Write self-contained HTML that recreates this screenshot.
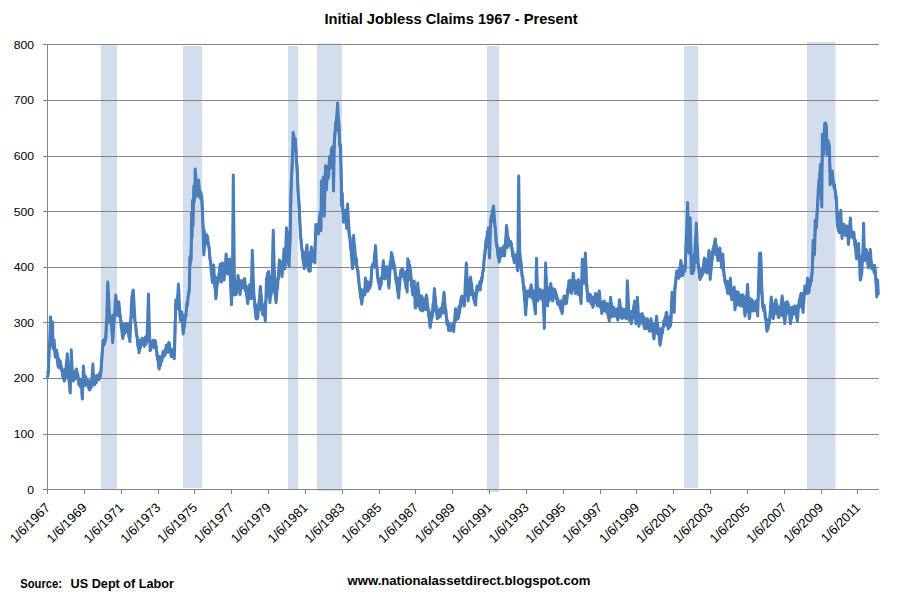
<!DOCTYPE html>
<html><head><meta charset="utf-8"><title>Initial Jobless Claims 1967 - Present</title>
<style>html,body{margin:0;padding:0;background:#fff}svg{display:block}</style></head>
<body>
<svg width="903" height="594" viewBox="0 0 903 594">
<rect width="903" height="594" fill="#fff"/>
<line x1="43" y1="44.5" x2="879" y2="44.5" stroke="#868686" stroke-width="1" shape-rendering="crispEdges"/>
<line x1="43" y1="100.5" x2="879" y2="100.5" stroke="#868686" stroke-width="1" shape-rendering="crispEdges"/>
<line x1="43" y1="156.5" x2="879" y2="156.5" stroke="#868686" stroke-width="1" shape-rendering="crispEdges"/>
<line x1="43" y1="211.5" x2="879" y2="211.5" stroke="#868686" stroke-width="1" shape-rendering="crispEdges"/>
<line x1="43" y1="267.5" x2="879" y2="267.5" stroke="#868686" stroke-width="1" shape-rendering="crispEdges"/>
<line x1="43" y1="322.5" x2="879" y2="322.5" stroke="#868686" stroke-width="1" shape-rendering="crispEdges"/>
<line x1="43" y1="378.5" x2="879" y2="378.5" stroke="#868686" stroke-width="1" shape-rendering="crispEdges"/>
<line x1="43" y1="434.5" x2="879" y2="434.5" stroke="#868686" stroke-width="1" shape-rendering="crispEdges"/>
<line x1="43" y1="489.5" x2="879" y2="489.5" stroke="#868686" stroke-width="1" shape-rendering="crispEdges"/>
<rect x="101" y="44" width="16" height="445" fill="#d2ddee"/>
<rect x="183" y="46" width="19" height="442" fill="#d2ddee"/>
<rect x="288" y="46" width="10" height="443" fill="#d2ddee"/>
<rect x="317" y="43.5" width="25" height="447.5" fill="#d2ddee"/>
<rect x="487" y="46" width="12" height="446" fill="#d2ddee"/>
<rect x="684" y="46" width="14" height="442" fill="#d2ddee"/>
<rect x="807" y="42" width="28.5" height="447" fill="#d2ddee"/>
<line x1="101" y1="44.5" x2="117" y2="44.5" stroke="#868686" stroke-width="1" shape-rendering="crispEdges"/>
<line x1="317" y1="44.5" x2="342" y2="44.5" stroke="#868686" stroke-width="1" shape-rendering="crispEdges"/>
<line x1="807" y1="44.5" x2="835.5" y2="44.5" stroke="#868686" stroke-width="1" shape-rendering="crispEdges"/>
<line x1="101" y1="100.5" x2="117" y2="100.5" stroke="#868686" stroke-width="1" shape-rendering="crispEdges"/>
<line x1="183" y1="100.5" x2="202" y2="100.5" stroke="#868686" stroke-width="1" shape-rendering="crispEdges"/>
<line x1="288" y1="100.5" x2="298" y2="100.5" stroke="#868686" stroke-width="1" shape-rendering="crispEdges"/>
<line x1="317" y1="100.5" x2="342" y2="100.5" stroke="#868686" stroke-width="1" shape-rendering="crispEdges"/>
<line x1="487" y1="100.5" x2="499" y2="100.5" stroke="#868686" stroke-width="1" shape-rendering="crispEdges"/>
<line x1="684" y1="100.5" x2="698" y2="100.5" stroke="#868686" stroke-width="1" shape-rendering="crispEdges"/>
<line x1="807" y1="100.5" x2="835.5" y2="100.5" stroke="#868686" stroke-width="1" shape-rendering="crispEdges"/>
<line x1="101" y1="156.5" x2="117" y2="156.5" stroke="#868686" stroke-width="1" shape-rendering="crispEdges"/>
<line x1="183" y1="156.5" x2="202" y2="156.5" stroke="#868686" stroke-width="1" shape-rendering="crispEdges"/>
<line x1="288" y1="156.5" x2="298" y2="156.5" stroke="#868686" stroke-width="1" shape-rendering="crispEdges"/>
<line x1="317" y1="156.5" x2="342" y2="156.5" stroke="#868686" stroke-width="1" shape-rendering="crispEdges"/>
<line x1="487" y1="156.5" x2="499" y2="156.5" stroke="#868686" stroke-width="1" shape-rendering="crispEdges"/>
<line x1="684" y1="156.5" x2="698" y2="156.5" stroke="#868686" stroke-width="1" shape-rendering="crispEdges"/>
<line x1="807" y1="156.5" x2="835.5" y2="156.5" stroke="#868686" stroke-width="1" shape-rendering="crispEdges"/>
<line x1="101" y1="211.5" x2="117" y2="211.5" stroke="#868686" stroke-width="1" shape-rendering="crispEdges"/>
<line x1="183" y1="211.5" x2="202" y2="211.5" stroke="#868686" stroke-width="1" shape-rendering="crispEdges"/>
<line x1="288" y1="211.5" x2="298" y2="211.5" stroke="#868686" stroke-width="1" shape-rendering="crispEdges"/>
<line x1="317" y1="211.5" x2="342" y2="211.5" stroke="#868686" stroke-width="1" shape-rendering="crispEdges"/>
<line x1="487" y1="211.5" x2="499" y2="211.5" stroke="#868686" stroke-width="1" shape-rendering="crispEdges"/>
<line x1="684" y1="211.5" x2="698" y2="211.5" stroke="#868686" stroke-width="1" shape-rendering="crispEdges"/>
<line x1="807" y1="211.5" x2="835.5" y2="211.5" stroke="#868686" stroke-width="1" shape-rendering="crispEdges"/>
<line x1="101" y1="267.5" x2="117" y2="267.5" stroke="#868686" stroke-width="1" shape-rendering="crispEdges"/>
<line x1="183" y1="267.5" x2="202" y2="267.5" stroke="#868686" stroke-width="1" shape-rendering="crispEdges"/>
<line x1="288" y1="267.5" x2="298" y2="267.5" stroke="#868686" stroke-width="1" shape-rendering="crispEdges"/>
<line x1="317" y1="267.5" x2="342" y2="267.5" stroke="#868686" stroke-width="1" shape-rendering="crispEdges"/>
<line x1="487" y1="267.5" x2="499" y2="267.5" stroke="#868686" stroke-width="1" shape-rendering="crispEdges"/>
<line x1="684" y1="267.5" x2="698" y2="267.5" stroke="#868686" stroke-width="1" shape-rendering="crispEdges"/>
<line x1="807" y1="267.5" x2="835.5" y2="267.5" stroke="#868686" stroke-width="1" shape-rendering="crispEdges"/>
<line x1="101" y1="322.5" x2="117" y2="322.5" stroke="#868686" stroke-width="1" shape-rendering="crispEdges"/>
<line x1="183" y1="322.5" x2="202" y2="322.5" stroke="#868686" stroke-width="1" shape-rendering="crispEdges"/>
<line x1="288" y1="322.5" x2="298" y2="322.5" stroke="#868686" stroke-width="1" shape-rendering="crispEdges"/>
<line x1="317" y1="322.5" x2="342" y2="322.5" stroke="#868686" stroke-width="1" shape-rendering="crispEdges"/>
<line x1="487" y1="322.5" x2="499" y2="322.5" stroke="#868686" stroke-width="1" shape-rendering="crispEdges"/>
<line x1="684" y1="322.5" x2="698" y2="322.5" stroke="#868686" stroke-width="1" shape-rendering="crispEdges"/>
<line x1="807" y1="322.5" x2="835.5" y2="322.5" stroke="#868686" stroke-width="1" shape-rendering="crispEdges"/>
<line x1="101" y1="378.5" x2="117" y2="378.5" stroke="#868686" stroke-width="1" shape-rendering="crispEdges"/>
<line x1="183" y1="378.5" x2="202" y2="378.5" stroke="#868686" stroke-width="1" shape-rendering="crispEdges"/>
<line x1="288" y1="378.5" x2="298" y2="378.5" stroke="#868686" stroke-width="1" shape-rendering="crispEdges"/>
<line x1="317" y1="378.5" x2="342" y2="378.5" stroke="#868686" stroke-width="1" shape-rendering="crispEdges"/>
<line x1="487" y1="378.5" x2="499" y2="378.5" stroke="#868686" stroke-width="1" shape-rendering="crispEdges"/>
<line x1="684" y1="378.5" x2="698" y2="378.5" stroke="#868686" stroke-width="1" shape-rendering="crispEdges"/>
<line x1="807" y1="378.5" x2="835.5" y2="378.5" stroke="#868686" stroke-width="1" shape-rendering="crispEdges"/>
<line x1="101" y1="434.5" x2="117" y2="434.5" stroke="#868686" stroke-width="1" shape-rendering="crispEdges"/>
<line x1="183" y1="434.5" x2="202" y2="434.5" stroke="#868686" stroke-width="1" shape-rendering="crispEdges"/>
<line x1="288" y1="434.5" x2="298" y2="434.5" stroke="#868686" stroke-width="1" shape-rendering="crispEdges"/>
<line x1="317" y1="434.5" x2="342" y2="434.5" stroke="#868686" stroke-width="1" shape-rendering="crispEdges"/>
<line x1="487" y1="434.5" x2="499" y2="434.5" stroke="#868686" stroke-width="1" shape-rendering="crispEdges"/>
<line x1="684" y1="434.5" x2="698" y2="434.5" stroke="#868686" stroke-width="1" shape-rendering="crispEdges"/>
<line x1="807" y1="434.5" x2="835.5" y2="434.5" stroke="#868686" stroke-width="1" shape-rendering="crispEdges"/>
<line x1="317" y1="489.5" x2="342" y2="489.5" stroke="#868686" stroke-width="1" shape-rendering="crispEdges"/>
<line x1="487" y1="489.5" x2="499" y2="489.5" stroke="#868686" stroke-width="1" shape-rendering="crispEdges"/>
<line x1="47.5" y1="44" x2="47.5" y2="490" stroke="#868686" stroke-width="1" shape-rendering="crispEdges"/>
<line x1="47.5" y1="489" x2="47.5" y2="494" stroke="#868686" stroke-width="1" shape-rendering="crispEdges"/>
<line x1="84.5" y1="489" x2="84.5" y2="494" stroke="#868686" stroke-width="1" shape-rendering="crispEdges"/>
<line x1="121.5" y1="489" x2="121.5" y2="494" stroke="#868686" stroke-width="1" shape-rendering="crispEdges"/>
<line x1="158.5" y1="489" x2="158.5" y2="494" stroke="#868686" stroke-width="1" shape-rendering="crispEdges"/>
<line x1="194.5" y1="489" x2="194.5" y2="494" stroke="#868686" stroke-width="1" shape-rendering="crispEdges"/>
<line x1="231.5" y1="489" x2="231.5" y2="494" stroke="#868686" stroke-width="1" shape-rendering="crispEdges"/>
<line x1="268.5" y1="489" x2="268.5" y2="494" stroke="#868686" stroke-width="1" shape-rendering="crispEdges"/>
<line x1="305.5" y1="489" x2="305.5" y2="494" stroke="#868686" stroke-width="1" shape-rendering="crispEdges"/>
<line x1="342.5" y1="489" x2="342.5" y2="494" stroke="#868686" stroke-width="1" shape-rendering="crispEdges"/>
<line x1="379.5" y1="489" x2="379.5" y2="494" stroke="#868686" stroke-width="1" shape-rendering="crispEdges"/>
<line x1="415.5" y1="489" x2="415.5" y2="494" stroke="#868686" stroke-width="1" shape-rendering="crispEdges"/>
<line x1="452.5" y1="489" x2="452.5" y2="494" stroke="#868686" stroke-width="1" shape-rendering="crispEdges"/>
<line x1="489.5" y1="489" x2="489.5" y2="494" stroke="#868686" stroke-width="1" shape-rendering="crispEdges"/>
<line x1="526.5" y1="489" x2="526.5" y2="494" stroke="#868686" stroke-width="1" shape-rendering="crispEdges"/>
<line x1="563.5" y1="489" x2="563.5" y2="494" stroke="#868686" stroke-width="1" shape-rendering="crispEdges"/>
<line x1="600.5" y1="489" x2="600.5" y2="494" stroke="#868686" stroke-width="1" shape-rendering="crispEdges"/>
<line x1="636.5" y1="489" x2="636.5" y2="494" stroke="#868686" stroke-width="1" shape-rendering="crispEdges"/>
<line x1="673.5" y1="489" x2="673.5" y2="494" stroke="#868686" stroke-width="1" shape-rendering="crispEdges"/>
<line x1="710.5" y1="489" x2="710.5" y2="494" stroke="#868686" stroke-width="1" shape-rendering="crispEdges"/>
<line x1="747.5" y1="489" x2="747.5" y2="494" stroke="#868686" stroke-width="1" shape-rendering="crispEdges"/>
<line x1="784.5" y1="489" x2="784.5" y2="494" stroke="#868686" stroke-width="1" shape-rendering="crispEdges"/>
<line x1="821.5" y1="489" x2="821.5" y2="494" stroke="#868686" stroke-width="1" shape-rendering="crispEdges"/>
<line x1="857.5" y1="489" x2="857.5" y2="494" stroke="#868686" stroke-width="1" shape-rendering="crispEdges"/>
<path d="M47.6,372.6 L48.4,373.2 L49.2,347.4 L50.0,346.2 L50.8,331.7 L51.6,345.5 L52.4,335.0 L53.2,342.1 L54.0,342.7 L54.8,352.3 L55.6,350.6 L56.4,358.0 L57.2,352.6 L58.0,365.4 L58.8,358.3 L59.6,368.1 L60.4,362.2 L61.2,369.1 L62.0,368.8 L62.8,376.7 L63.6,370.0 L64.4,375.7 L65.2,368.9 L66.0,377.4 L66.8,371.7 L67.6,378.2 L68.4,366.5 L69.2,372.7 L70.0,371.0 L70.8,381.4 L71.6,374.3 L72.4,381.0 L73.2,371.5 L74.0,374.2 L74.8,371.0 L75.6,378.8 L76.4,372.2 L77.2,379.2 L78.0,374.0 L78.8,384.1 L79.6,378.9 L80.4,387.1 L81.2,380.5 L82.0,386.0 L82.8,379.0 L83.6,383.0 L84.4,379.5 L85.2,385.9 L86.0,376.6 L86.8,384.1 L87.6,380.0 L88.4,387.7 L89.2,380.6 L90.0,387.1 L90.8,381.2 L91.6,387.5 L92.4,379.2 L93.2,383.7 L94.0,375.2 L94.8,382.1 L95.6,376.0 L96.4,382.9 L97.2,375.2 L98.0,380.2 L98.8,373.7 L99.6,379.0 L100.4,371.2 L101.2,371.5 L102.0,352.5 L102.8,347.8 L103.6,339.9 L104.4,344.7 L105.2,337.5 L106.0,337.6 L106.8,317.8 L107.6,323.3 L108.4,316.3 L109.2,321.7 L110.0,315.4 L110.8,324.5 L111.6,316.1 L112.4,322.7 L113.2,314.9 L114.0,320.5 L114.8,312.8 L115.6,315.3 L116.4,303.8 L117.2,314.2 L118.0,304.1 L118.8,313.9 L119.6,311.2 L120.4,320.3 L121.2,320.8 L122.0,331.7 L122.8,323.8 L123.6,330.9 L124.4,324.6 L125.2,333.1 L126.0,326.0 L126.8,331.6 L127.6,324.9 L128.4,331.6 L129.2,323.3 L130.0,329.8 L130.8,317.6 L131.6,317.6 L132.4,306.1 L133.2,313.7 L134.0,310.2 L134.8,320.7 L135.6,322.9 L136.4,335.6 L137.2,336.3 L138.0,346.8 L138.8,341.1 L139.6,348.7 L140.4,339.9 L141.2,345.7 L142.0,338.1 L142.8,344.4 L143.6,338.9 L144.4,346.6 L145.2,336.8 L146.0,344.7 L146.8,337.0 L147.6,341.9 L148.4,336.1 L149.2,341.4 L150.0,340.9 L150.8,346.0 L151.6,341.4 L152.4,346.5 L153.2,340.1 L154.0,348.0 L154.8,341.2 L155.6,347.7 L156.4,346.6 L157.2,358.2 L158.0,357.2 L158.8,363.0 L159.6,356.3 L160.4,365.3 L161.2,356.9 L162.0,361.5 L162.8,351.6 L163.6,357.1 L164.4,350.2 L165.2,355.4 L166.0,345.4 L166.8,352.5 L167.6,344.3 L168.4,352.5 L169.2,344.5 L170.0,351.6 L170.8,349.3 L171.6,355.3 L172.4,349.9 L173.2,354.9 L174.0,348.9 L174.8,343.5 L175.6,303.8 L176.4,307.8 L177.2,301.4 L178.0,308.8 L178.8,299.3 L179.6,311.1 L180.4,310.9 L181.2,321.1 L182.0,315.0 L182.8,321.1 L183.6,315.2 L184.4,321.6 L185.2,315.9 L186.0,316.1 L186.8,302.5 L187.6,304.5 L188.4,292.4 L189.2,291.1 L190.0,256.6 L190.8,262.4 L191.6,234.6 L192.4,219.5 L193.2,205.3 L194.0,198.2 L194.8,187.4 L195.6,194.4 L196.4,184.4 L197.2,191.9 L198.0,184.3 L198.8,194.5 L199.6,190.3 L200.4,198.5 L201.2,192.3 L202.0,204.2 L202.8,218.8 L203.6,237.0 L204.4,230.4 L205.2,238.7 L206.0,236.8 L206.8,244.1 L207.6,238.8 L208.4,246.0 L209.2,247.1 L210.0,260.4 L210.8,261.6 L211.6,271.9 L212.4,269.8 L213.2,278.2 L214.0,275.0 L214.8,287.3 L215.6,277.1 L216.4,283.6 L217.2,277.9 L218.0,283.7 L218.8,276.3 L219.6,277.6 L220.4,268.4 L221.2,277.1 L222.0,269.6 L222.8,273.4 L223.6,265.5 L224.4,271.3 L225.2,264.8 L226.0,270.5 L226.8,262.0 L227.6,270.8 L228.4,262.8 L229.2,273.0 L230.0,267.5 L230.8,271.5 L231.6,263.6 L232.4,284.0 L233.2,283.5 L234.0,295.1 L234.8,280.3 L235.6,284.2 L236.4,281.5 L237.2,292.4 L238.0,287.5 L238.8,289.3 L239.6,281.0 L240.4,287.4 L241.2,281.5 L242.0,287.8 L242.8,281.1 L243.6,288.0 L244.4,281.4 L245.2,290.7 L246.0,287.4 L246.8,293.4 L247.6,286.6 L248.4,294.1 L249.2,289.7 L250.0,295.9 L250.8,286.3 L251.6,290.8 L252.4,282.9 L253.2,298.5 L254.0,295.9 L254.8,306.7 L255.6,304.0 L256.4,314.6 L257.2,307.5 L258.0,311.6 L258.8,303.6 L259.6,309.1 L260.4,300.4 L261.2,309.9 L262.0,303.2 L262.8,313.6 L263.6,304.7 L264.4,310.9 L265.2,303.1 L266.0,299.9 L266.8,285.0 L267.6,296.6 L268.4,284.4 L269.2,290.6 L270.0,276.2 L270.8,280.5 L271.6,275.5 L272.4,292.5 L273.2,282.2 L274.0,291.3 L274.8,280.8 L275.6,283.0 L276.4,279.0 L277.2,285.8 L278.0,278.3 L278.8,278.4 L279.6,269.8 L280.4,271.7 L281.2,264.7 L282.0,269.2 L282.8,261.6 L283.6,264.9 L284.4,252.7 L285.2,254.9 L286.0,251.4 L286.8,258.0 L287.6,248.9 L288.4,249.8 L289.2,231.5 L290.0,241.1 L290.8,199.3 L291.6,181.3 L292.4,154.5 L293.2,150.4 L294.0,147.6 L294.8,150.0 L295.6,145.9 L296.4,161.8 L297.2,166.0 L298.0,191.4 L298.8,196.2 L299.6,219.6 L300.4,229.5 L301.2,246.0 L302.0,248.0 L302.8,258.3 L303.6,251.5 L304.4,256.5 L305.2,253.4 L306.0,264.3 L306.8,259.9 L307.6,267.3 L308.4,253.5 L309.2,260.4 L310.0,252.3 L310.8,262.1 L311.6,256.4 L312.4,261.8 L313.2,251.3 L314.0,257.4 L314.8,246.4 L315.6,236.5 L316.4,229.6 L317.2,232.3 L318.0,224.0 L318.8,229.2 L319.6,215.7 L320.4,217.5 L321.2,209.1 L322.0,205.9 L322.8,190.8 L323.6,189.6 L324.4,181.3 L325.2,185.6 L326.0,175.1 L326.8,178.8 L327.6,170.0 L328.4,171.4 L329.2,161.9 L330.0,164.1 L330.8,159.8 L331.6,163.0 L332.4,146.9 L333.2,154.2 L334.0,144.3 L334.8,138.5 L335.6,122.7 L336.4,128.7 L337.2,121.8 L338.0,130.4 L338.8,121.0 L339.6,146.5 L340.4,144.9 L341.2,178.7 L342.0,196.5 L342.8,210.8 L343.6,211.0 L344.4,216.6 L345.2,213.4 L346.0,221.7 L346.8,213.0 L347.6,223.2 L348.4,221.8 L349.2,236.9 L350.0,236.6 L350.8,247.6 L351.6,244.0 L352.4,252.6 L353.2,249.7 L354.0,258.5 L354.8,256.2 L355.6,265.0 L356.4,258.1 L357.2,269.7 L358.0,269.9 L358.8,282.7 L359.6,286.0 L360.4,296.8 L361.2,289.4 L362.0,298.3 L362.8,290.3 L363.6,295.6 L364.4,289.4 L365.2,294.1 L366.0,282.9 L366.8,291.3 L367.6,281.6 L368.4,287.5 L369.2,282.5 L370.0,288.3 L370.8,281.6 L371.6,272.7 L372.4,264.4 L373.2,267.1 L374.0,261.0 L374.8,267.4 L375.6,260.0 L376.4,267.2 L377.2,268.6 L378.0,280.8 L378.8,278.5 L379.6,284.5 L380.4,278.3 L381.2,284.0 L382.0,276.0 L382.8,278.5 L383.6,270.6 L384.4,276.5 L385.2,266.9 L386.0,276.7 L386.8,272.6 L387.6,278.7 L388.4,268.9 L389.2,272.2 L390.0,262.0 L390.8,266.3 L391.6,258.0 L392.4,268.3 L393.2,261.5 L394.0,266.5 L394.8,266.2 L395.6,279.9 L396.4,279.1 L397.2,286.1 L398.0,277.7 L398.8,285.3 L399.6,278.0 L400.4,278.2 L401.2,272.3 L402.0,276.5 L402.8,271.2 L403.6,276.8 L404.4,274.2 L405.2,279.3 L406.0,271.6 L406.8,280.5 L407.6,269.0 L408.4,280.5 L409.2,271.0 L410.0,278.4 L410.8,271.1 L411.6,286.8 L412.4,282.1 L413.2,293.4 L414.0,289.7 L414.8,296.9 L415.6,287.1 L416.4,302.0 L417.2,298.8 L418.0,305.8 L418.8,299.3 L419.6,307.4 L420.4,295.9 L421.2,308.0 L422.0,303.1 L422.8,308.1 L423.6,298.0 L424.4,306.5 L425.2,300.7 L426.0,309.6 L426.8,302.2 L427.6,309.7 L428.4,309.3 L429.2,316.4 L430.0,313.2 L430.8,318.6 L431.6,311.5 L432.4,317.6 L433.2,304.0 L434.0,309.3 L434.8,305.1 L435.6,312.1 L436.4,306.0 L437.2,316.2 L438.0,310.2 L438.8,317.6 L439.6,308.9 L440.4,316.7 L441.2,307.8 L442.0,313.2 L442.8,306.0 L443.6,313.0 L444.4,304.5 L445.2,311.0 L446.0,309.6 L446.8,324.5 L447.6,320.8 L448.4,330.5 L449.2,323.1 L450.0,330.6 L450.8,325.9 L451.6,330.5 L452.4,324.0 L453.2,331.4 L454.0,323.4 L454.8,320.0 L455.6,312.8 L456.4,320.5 L457.2,311.0 L458.0,316.4 L458.8,306.2 L459.6,313.7 L460.4,300.8 L461.2,306.9 L462.0,298.0 L462.8,302.4 L463.6,296.8 L464.4,298.7 L465.2,293.4 L466.0,295.3 L466.8,285.9 L467.6,289.7 L468.4,279.6 L469.2,287.6 L470.0,285.7 L470.8,294.9 L471.6,288.4 L472.4,292.8 L473.2,292.5 L474.0,299.5 L474.8,293.2 L475.6,299.7 L476.4,291.0 L477.2,292.6 L478.0,286.5 L478.8,289.4 L479.6,281.5 L480.4,290.1 L481.2,278.6 L482.0,281.1 L482.8,270.4 L483.6,270.8 L484.4,254.8 L485.2,254.2 L486.0,241.2 L486.8,247.4 L487.6,235.7 L488.4,238.9 L489.2,232.7 L490.0,232.1 L490.8,218.0 L491.6,220.7 L492.4,216.4 L493.2,221.7 L494.0,214.6 L494.8,226.6 L495.6,229.2 L496.4,246.5 L497.2,245.8 L498.0,257.1 L498.8,249.2 L499.6,255.1 L500.4,248.1 L501.2,256.7 L502.0,249.8 L502.8,255.9 L503.6,245.9 L504.4,253.3 L505.2,244.3 L506.0,246.2 L506.8,240.7 L507.6,247.9 L508.4,238.0 L509.2,245.5 L510.0,241.1 L510.8,245.6 L511.6,243.8 L512.4,256.2 L513.2,251.7 L514.0,262.7 L514.8,256.3 L515.6,262.5 L516.4,254.1 L517.2,262.1 L518.0,253.2 L518.8,262.2 L519.6,260.2 L520.4,268.0 L521.2,261.8 L522.0,277.0 L522.8,276.8 L523.6,289.7 L524.4,286.8 L525.2,295.9 L526.0,292.4 L526.8,298.3 L527.6,293.1 L528.4,296.9 L529.2,290.8 L530.0,295.1 L530.8,290.8 L531.6,298.1 L532.4,293.6 L533.2,298.6 L534.0,290.8 L534.8,298.9 L535.6,293.0 L536.4,301.0 L537.2,292.6 L538.0,296.7 L538.8,288.3 L539.6,296.4 L540.4,292.4 L541.2,299.0 L542.0,291.3 L542.8,299.6 L543.6,290.4 L544.4,301.1 L545.2,296.3 L546.0,304.8 L546.8,295.2 L547.6,296.4 L548.4,288.0 L549.2,295.6 L550.0,294.2 L550.8,299.2 L551.6,290.2 L552.4,294.6 L553.2,288.6 L554.0,296.8 L554.8,292.2 L555.6,298.9 L556.4,294.3 L557.2,303.7 L558.0,299.0 L558.8,305.7 L559.6,301.7 L560.4,308.4 L561.2,300.5 L562.0,306.9 L562.8,300.5 L563.6,304.5 L564.4,296.2 L565.2,303.8 L566.0,295.6 L566.8,300.3 L567.6,289.9 L568.4,293.1 L569.2,287.1 L570.0,290.4 L570.8,280.2 L571.6,289.2 L572.4,280.9 L573.2,289.7 L574.0,284.8 L574.8,288.8 L575.6,280.8 L576.4,288.9 L577.2,284.5 L578.0,294.7 L578.8,286.3 L579.6,289.5 L580.4,280.8 L581.2,283.8 L582.0,279.7 L582.8,282.2 L583.6,270.6 L584.4,276.4 L585.2,270.0 L586.0,285.5 L586.8,283.6 L587.6,299.1 L588.4,293.8 L589.2,300.1 L590.0,294.0 L590.8,303.7 L591.6,296.8 L592.4,301.3 L593.2,296.7 L594.0,304.0 L594.8,298.4 L595.6,303.3 L596.4,296.7 L597.2,301.6 L598.0,293.8 L598.8,304.9 L599.6,299.5 L600.4,307.8 L601.2,302.0 L602.0,307.3 L602.8,301.8 L603.6,310.6 L604.4,305.5 L605.2,311.2 L606.0,304.7 L606.8,313.1 L607.6,303.4 L608.4,312.5 L609.2,307.6 L610.0,316.3 L610.8,310.3 L611.6,317.1 L612.4,308.3 L613.2,313.4 L614.0,307.2 L614.8,316.2 L615.6,311.5 L616.4,316.0 L617.2,308.6 L618.0,313.1 L618.8,309.4 L619.6,317.6 L620.4,310.9 L621.2,315.0 L622.0,308.5 L622.8,318.0 L623.6,309.4 L624.4,317.2 L625.2,309.4 L626.0,315.5 L626.8,308.0 L627.6,315.3 L628.4,309.9 L629.2,320.4 L630.0,311.2 L630.8,317.0 L631.6,311.3 L632.4,318.5 L633.2,315.7 L634.0,318.0 L634.8,307.5 L635.6,313.1 L636.4,307.2 L637.2,315.3 L638.0,313.8 L638.8,318.9 L639.6,314.0 L640.4,321.9 L641.2,317.3 L642.0,323.3 L642.8,317.2 L643.6,324.7 L644.4,317.4 L645.2,326.8 L646.0,321.5 L646.8,328.9 L647.6,321.1 L648.4,325.8 L649.2,321.3 L650.0,328.6 L650.8,323.4 L651.6,330.9 L652.4,327.2 L653.2,329.8 L654.0,323.6 L654.8,331.1 L655.6,324.9 L656.4,333.3 L657.2,326.7 L658.0,334.3 L658.8,331.7 L659.6,338.2 L660.4,328.5 L661.2,337.6 L662.0,329.5 L662.8,332.7 L663.6,321.1 L664.4,324.0 L665.2,317.1 L666.0,325.4 L666.8,318.6 L667.6,324.8 L668.4,317.2 L669.2,326.5 L670.0,316.2 L670.8,325.6 L671.6,306.8 L672.4,310.2 L673.2,295.0 L674.0,298.7 L674.8,289.1 L675.6,286.2 L676.4,272.6 L677.2,278.3 L678.0,271.4 L678.8,276.0 L679.6,268.6 L680.4,276.5 L681.2,270.4 L682.0,273.9 L682.8,265.7 L683.6,270.0 L684.4,266.6 L685.2,270.9 L686.0,246.0 L686.8,246.9 L687.6,234.0 L688.4,240.8 L689.2,237.4 L690.0,242.1 L690.8,247.3 L691.6,266.8 L692.4,257.1 L693.2,267.3 L694.0,255.3 L694.8,259.5 L695.6,251.3 L696.4,262.1 L697.2,251.6 L698.0,264.1 L698.8,265.6 L699.6,277.8 L700.4,270.8 L701.2,274.9 L702.0,269.4 L702.8,273.5 L703.6,265.2 L704.4,272.2 L705.2,262.4 L706.0,267.2 L706.8,259.7 L707.6,268.7 L708.4,264.8 L709.2,270.5 L710.0,261.7 L710.8,262.1 L711.6,251.9 L712.4,258.9 L713.2,247.8 L714.0,251.4 L714.8,246.2 L715.6,254.7 L716.4,245.5 L717.2,254.7 L718.0,249.2 L718.8,256.7 L719.6,252.3 L720.4,260.4 L721.2,254.5 L722.0,265.1 L722.8,261.4 L723.6,270.8 L724.4,274.6 L725.2,283.2 L726.0,280.9 L726.8,287.9 L727.6,281.1 L728.4,288.3 L729.2,285.7 L730.0,294.3 L730.8,288.5 L731.6,293.4 L732.4,290.2 L733.2,297.3 L734.0,291.8 L734.8,299.4 L735.6,291.1 L736.4,299.3 L737.2,297.5 L738.0,305.2 L738.8,296.1 L739.6,300.1 L740.4,295.1 L741.2,303.6 L742.0,298.8 L742.8,306.4 L743.6,301.0 L744.4,305.8 L745.2,296.3 L746.0,305.1 L746.8,304.4 L747.6,312.1 L748.4,302.0 L749.2,305.9 L750.0,298.1 L750.8,310.4 L751.6,304.0 L752.4,311.2 L753.2,301.4 L754.0,309.1 L754.8,302.7 L755.6,309.4 L756.4,302.4 L757.2,308.5 L758.0,299.9 L758.8,290.0 L759.6,281.6 L760.4,292.6 L761.2,278.8 L762.0,294.6 L762.8,301.5 L763.6,311.0 L764.4,305.4 L765.2,319.3 L766.0,317.6 L766.8,325.5 L767.6,319.7 L768.4,324.6 L769.2,319.0 L770.0,319.5 L770.8,312.3 L771.6,315.9 L772.4,305.4 L773.2,309.8 L774.0,303.5 L774.8,312.2 L775.6,306.6 L776.4,314.0 L777.2,308.4 L778.0,312.5 L778.8,306.9 L779.6,311.6 L780.4,306.7 L781.2,315.3 L782.0,308.4 L782.8,316.1 L783.6,305.7 L784.4,309.7 L785.2,302.6 L786.0,314.4 L786.8,309.4 L787.6,313.6 L788.4,306.0 L789.2,313.2 L790.0,308.7 L790.8,314.6 L791.6,307.1 L792.4,315.5 L793.2,307.1 L794.0,314.1 L794.8,306.0 L795.6,313.8 L796.4,306.0 L797.2,312.4 L798.0,305.3 L798.8,308.1 L799.6,299.2 L800.4,307.0 L801.2,296.7 L802.0,303.1 L802.8,293.4 L803.6,297.6 L804.4,290.3 L805.2,294.4 L806.0,287.2 L806.8,292.9 L807.6,282.9 L808.4,292.9 L809.2,280.8 L810.0,285.6 L810.8,276.9 L811.6,281.0 L812.4,265.2 L813.2,255.1 L814.0,240.1 L814.8,242.2 L815.6,222.4 L816.4,226.5 L817.2,208.4 L818.0,199.2 L818.8,189.7 L819.6,189.8 L820.4,175.8 L821.2,178.1 L822.0,162.7 L822.8,151.1 L823.6,135.7 L824.4,145.6 L825.2,137.7 L826.0,145.0 L826.8,140.5 L827.6,145.3 L828.4,144.7 L829.2,154.8 L830.0,167.7 L830.8,175.7 L831.6,172.8 L832.4,183.0 L833.2,181.9 L834.0,188.3 L834.8,184.7 L835.6,197.2 L836.4,196.5 L837.2,221.5 L838.0,212.2 L838.8,227.8 L839.6,224.8 L840.4,232.5 L841.2,226.4 L842.0,231.2 L842.8,224.3 L843.6,231.8 L844.4,226.7 L845.2,235.4 L846.0,226.0 L846.8,235.6 L847.6,227.5 L848.4,234.1 L849.2,230.9 L850.0,237.6 L850.8,231.6 L851.6,236.3 L852.4,232.4 L853.2,238.5 L854.0,232.1 L854.8,246.2 L855.6,240.4 L856.4,250.8 L857.2,248.5 L858.0,256.9 L858.8,254.4 L859.6,262.8 L860.4,256.9 L861.2,259.5 L862.0,255.5 L862.8,261.5 L863.6,251.4 L864.4,258.7 L865.2,251.3 L866.0,259.2 L866.8,253.1 L867.6,258.8 L868.4,253.1 L869.2,263.3 L870.0,256.6 L870.8,266.5 L871.6,262.2 L872.4,269.1 L873.2,265.7 L874.0,273.1 L874.8,265.3 L875.6,278.3 L876.4,279.6 L877.2,292.9 L878.0,290.0" fill="none" stroke="#4a7ebb" stroke-width="2.6" stroke-linejoin="round" stroke-linecap="round"/>
<path d="M47.6,377.0 L48.1,375.0 L48.7,361.4 L49.3,350.0 L49.9,334.3 L50.5,317.0 L51.0,324.5 L51.5,335.0 L52.0,329.2 L52.5,322.0 L53.1,348.7 L53.7,343.0 L54.2,340.0 L54.7,349.6 L55.2,357.0 L55.7,354.0 L56.1,353.5 L56.6,350.0 L57.1,355.1 L57.7,362.4 L58.2,367.0 L58.7,364.9 L59.2,364.7 L59.7,361.5 L60.2,361.0 L60.7,365.2 L61.2,365.7 L61.7,370.0 L62.2,372.0 L62.7,373.0 L63.2,378.4 L63.7,377.6 L64.2,381.0 L64.7,379.2 L65.1,373.5 L65.5,373.3 L66.0,370.0 L66.4,362.9 L66.9,360.1 L67.3,353.7 L67.9,364.0 L68.5,376.0 L69.0,380.9 L69.4,383.5 L69.8,390.2 L70.3,393.0 L70.8,371.0 L71.3,349.7 L71.8,362.3 L72.3,372.0 L72.8,375.0 L73.3,381.0 L73.7,380.2 L74.2,376.1 L74.6,376.3 L75.0,374.0 L75.5,371.7 L75.9,371.5 L76.4,369.0 L76.9,370.6 L77.5,376.1 L78.0,378.0 L78.5,379.4 L78.9,384.0 L79.4,385.0 L79.9,382.2 L80.5,382.6 L81.0,380.0 L81.5,384.8 L81.9,394.1 L82.4,399.0 L82.9,381.6 L83.4,366.0 L83.9,372.4 L84.4,376.0 L85.0,377.2 L85.5,381.0 L86.0,383.0 L86.5,380.4 L87.0,383.3 L87.5,383.0 L88.0,383.1 L88.5,387.3 L89.0,387.3 L89.5,390.0 L90.0,389.9 L90.5,386.2 L91.0,386.6 L91.5,384.0 L92.0,376.7 L92.4,372.1 L92.9,364.0 L93.7,380.0 L94.5,385.0 L95.0,381.8 L95.5,383.0 L96.0,380.0 L96.5,377.3 L97.1,379.0 L97.6,377.0 L98.1,376.2 L98.5,379.7 L99.0,379.0 L99.5,376.4 L100.1,377.5 L100.6,375.0 L101.2,365.7 L101.8,360.0 L102.4,352.2 L103.0,340.6 L103.4,340.6 L103.9,344.3 L104.3,344.0 L104.8,341.6 L105.2,341.9 L105.7,338.6 L106.2,326.8 L106.8,318.0 L107.2,302.0 L107.7,282.0 L108.2,289.2 L108.7,300.0 L109.2,311.0 L109.7,320.0 L110.1,318.3 L110.6,320.1 L111.0,318.0 L111.4,323.6 L111.8,331.5 L112.3,335.8 L112.7,342.6 L113.2,335.1 L113.8,325.6 L114.3,318.0 L114.8,311.9 L115.3,301.9 L115.8,295.0 L116.3,301.4 L116.8,306.0 L117.3,309.9 L117.8,316.0 L118.3,310.8 L118.8,302.0 L119.3,306.4 L119.8,313.2 L120.3,315.9 L120.8,322.0 L121.3,327.7 L121.8,328.6 L122.3,335.9 L122.8,338.6 L123.3,335.1 L123.8,334.5 L124.3,329.7 L124.8,328.0 L125.2,328.6 L125.6,324.5 L126.1,326.4 L126.5,324.2 L126.9,324.0 L127.4,327.9 L127.9,329.1 L128.4,333.0 L128.9,337.0 L129.4,337.4 L129.9,341.6 L130.4,330.8 L130.9,318.0 L131.4,306.4 L131.9,296.0 L132.4,295.1 L132.8,291.0 L133.3,290.0 L134.1,305.0 L134.9,320.0 L135.4,325.4 L135.9,326.6 L136.5,334.0 L137.0,337.0 L137.5,339.8 L138.0,346.3 L138.5,347.5 L139.0,352.7 L139.5,351.1 L140.0,346.5 L140.5,347.6 L141.0,344.0 L141.5,341.6 L142.0,344.0 L142.5,340.5 L143.0,340.6 L143.5,342.2 L144.0,341.1 L144.5,343.6 L145.0,343.0 L145.5,341.3 L146.0,341.5 L146.5,339.0 L147.0,338.6 L147.5,324.0 L148.0,308.5 L148.5,294.0 L149.3,325.0 L150.1,350.7 L150.6,349.9 L151.1,347.4 L151.5,347.5 L152.0,344.8 L152.5,344.0 L152.9,344.2 L153.4,342.3 L153.8,344.1 L154.3,340.4 L154.8,341.7 L155.2,340.6 L155.7,343.7 L156.2,349.4 L156.7,351.2 L157.2,356.0 L157.7,359.9 L158.2,360.7 L158.7,367.4 L159.2,369.0 L159.7,365.7 L160.2,365.8 L160.7,361.7 L161.2,360.0 L161.7,359.3 L162.2,356.3 L162.7,356.8 L163.2,354.7 L163.7,352.7 L164.1,353.9 L164.6,351.7 L165.1,353.3 L165.5,349.8 L166.0,350.0 L166.5,349.5 L166.9,346.7 L167.4,347.5 L167.9,344.5 L168.4,346.4 L168.8,342.5 L169.3,342.6 L169.8,347.4 L170.3,348.7 L170.8,354.2 L171.3,356.8 L171.7,354.9 L172.2,356.1 L172.6,352.1 L173.0,352.0 L173.4,355.8 L173.9,355.6 L174.3,358.8 L174.8,339.5 L175.3,319.0 L175.8,300.0 L176.4,305.0 L177.0,306.0 L177.5,297.0 L177.9,292.9 L178.4,284.0 L178.9,292.3 L179.4,304.0 L179.9,313.8 L180.4,320.4 L180.8,316.8 L181.3,316.0 L181.7,312.0 L182.2,318.3 L182.7,327.3 L183.2,334.0 L183.7,329.4 L184.3,326.9 L184.8,322.0 L185.3,317.2 L185.8,315.7 L186.3,310.4 L186.8,305.8 L187.2,305.9 L187.7,302.0 L188.2,295.6 L188.8,294.5 L189.3,288.0 L190.1,257.0 L190.6,256.6 L191.1,260.0 L191.6,212.0 L192.1,238.0 L192.5,200.4 L193.1,226.0 L193.8,186.0 L194.3,202.0 L194.8,186.6 L195.2,169.0 L195.7,175.6 L196.2,184.0 L196.7,191.1 L197.2,196.4 L197.7,190.1 L198.1,186.3 L198.6,180.0 L199.4,190.0 L200.2,196.4 L200.7,194.9 L201.3,197.8 L201.8,196.0 L202.6,216.6 L203.2,234.0 L203.8,255.0 L204.3,249.4 L204.8,240.1 L205.3,234.7 L205.8,236.4 L206.3,234.5 L206.8,236.8 L207.3,235.8 L207.8,238.1 L208.3,245.1 L208.8,245.8 L209.3,251.0 L209.8,256.8 L210.3,260.0 L210.8,264.9 L211.3,273.0 L211.8,276.0 L212.3,282.5 L212.8,278.2 L213.2,269.0 L213.7,265.0 L214.2,275.7 L214.8,284.0 L215.3,290.2 L215.8,298.7 L216.4,294.3 L217.0,286.0 L217.5,282.0 L217.9,281.8 L218.4,278.5 L218.9,274.2 L219.4,272.1 L219.9,266.1 L220.4,264.0 L220.9,274.7 L221.5,282.0 L222.1,271.7 L222.6,263.0 L223.1,270.3 L223.5,272.5 L224.0,280.0 L224.5,274.8 L225.1,265.9 L225.6,261.6 L226.1,254.0 L226.6,259.9 L227.0,267.9 L227.5,274.0 L228.0,268.6 L228.5,268.0 L229.0,261.6 L229.5,259.0 L230.0,271.1 L230.5,281.4 L231.0,293.9 L231.5,304.7 L232.0,285.6 L232.5,270.0 L233.3,175.0 L233.9,233.2 L234.5,290.6 L234.9,290.8 L235.3,293.6 L235.8,292.8 L236.2,294.6 L236.6,291.0 L237.1,284.1 L237.6,281.3 L238.0,275.5 L238.5,279.6 L239.0,286.9 L239.5,288.9 L240.0,294.6 L240.5,291.0 L241.1,283.9 L241.6,280.5 L242.1,284.7 L242.5,284.4 L243.0,288.0 L243.5,286.6 L244.1,280.5 L244.6,278.5 L245.1,284.2 L245.7,286.3 L246.2,292.0 L246.7,296.5 L247.2,298.7 L247.7,303.7 L248.2,299.6 L248.7,293.5 L249.2,290.7 L249.7,284.5 L250.2,288.5 L250.6,295.1 L251.1,298.7 L251.7,273.8 L252.3,250.2 L252.8,264.2 L253.2,276.7 L253.7,290.6 L254.1,297.1 L254.5,300.2 L255.0,308.6 L255.4,311.9 L255.8,317.9 L256.3,319.0 L256.8,317.0 L257.3,318.7 L257.8,317.9 L258.2,311.5 L258.7,308.7 L259.1,300.9 L259.5,298.6 L260.0,290.5 L260.4,286.6 L260.9,293.2 L261.4,296.5 L261.8,304.8 L262.3,308.2 L262.8,314.8 L263.4,313.0 L264.0,308.0 L264.4,311.2 L264.9,317.8 L265.3,320.9 L265.9,299.2 L266.5,278.5 L267.0,278.3 L267.5,273.4 L268.0,274.7 L268.5,271.4 L269.0,280.1 L269.4,293.2 L269.9,302.7 L270.4,297.0 L270.9,295.5 L271.4,287.6 L271.9,284.5 L272.4,266.7 L272.8,248.1 L273.3,230.3 L273.7,246.8 L274.1,262.2 L274.6,278.8 L275.0,294.6 L275.5,297.9 L276.0,302.7 L276.5,298.4 L277.0,289.9 L277.5,287.6 L278.0,280.5 L278.5,272.9 L278.9,268.3 L279.4,260.0 L279.9,261.6 L280.5,266.7 L281.0,269.0 L281.5,270.9 L282.0,276.5 L282.5,271.2 L283.0,261.8 L283.5,257.5 L284.0,249.0 L284.5,257.8 L285.0,269.0 L285.5,255.7 L286.0,240.7 L286.5,227.7 L287.0,240.4 L287.6,249.1 L288.1,261.0 L288.6,264.9 L289.1,266.4 L289.6,252.3 L290.1,240.8 L290.6,213.8 L291.1,186.0 L291.6,175.5 L292.1,166.8 L292.6,150.6 L293.1,132.4 L293.6,134.6 L294.2,140.0 L294.7,139.9 L295.2,138.5 L295.7,145.2 L296.2,154.6 L296.7,163.9 L297.2,170.8 L297.7,181.3 L298.2,193.0 L298.7,200.8 L299.2,206.5 L299.7,217.1 L300.2,230.7 L300.7,237.1 L301.2,240.7 L301.7,248.3 L302.2,252.0 L302.7,254.7 L303.2,262.3 L303.7,263.8 L304.2,268.6 L304.7,265.0 L305.2,258.9 L305.7,255.0 L306.1,253.2 L306.6,247.4 L307.0,245.0 L307.4,253.7 L307.9,259.9 L308.3,269.0 L308.8,271.0 L309.3,268.3 L309.8,271.3 L310.3,271.0 L310.8,258.2 L311.3,247.0 L311.8,251.1 L312.3,250.6 L312.8,255.8 L313.3,257.0 L313.8,258.3 L314.4,261.6 L314.9,263.0 L315.4,242.2 L315.8,224.6 L316.2,227.0 L316.7,227.1 L317.1,231.2 L317.5,229.5 L318.0,233.6 L318.4,234.0 L318.9,224.6 L319.4,216.6 L319.9,216.1 L320.3,212.0 L321.0,230.7 L321.4,181.0 L321.9,187.8 L322.3,196.0 L322.9,188.3 L323.4,176.9 L323.9,195.4 L324.3,216.3 L324.9,191.5 L325.5,165.8 L325.9,176.5 L326.4,190.0 L326.9,180.3 L327.5,166.8 L328.0,171.4 L328.5,178.0 L329.0,168.1 L329.5,156.7 L330.0,161.0 L330.5,168.0 L331.0,159.2 L331.5,148.6 L332.0,148.6 L332.4,150.7 L332.9,150.6 L333.5,191.0 L334.0,163.5 L334.5,136.5 L335.1,132.3 L335.6,126.4 L336.1,121.2 L336.6,118.0 L337.1,111.5 L337.6,103.0 L338.3,116.0 L339.0,126.4 L339.6,142.5 L340.1,143.9 L340.6,148.6 L341.2,174.8 L341.5,206.0 L342.2,193.0 L342.6,203.7 L343.1,211.3 L343.5,222.3 L343.9,220.5 L344.3,216.4 L344.8,215.6 L345.2,211.9 L345.6,210.2 L346.1,219.9 L346.6,228.4 L347.1,214.6 L347.6,204.0 L348.1,214.1 L348.5,220.8 L349.0,230.4 L349.4,236.1 L349.9,237.7 L350.3,244.0 L350.7,248.9 L351.2,250.9 L351.6,256.7 L352.1,264.0 L352.6,268.8 L353.1,250.9 L353.6,235.5 L354.1,242.8 L354.6,245.9 L355.2,254.0 L355.7,258.7 L356.2,260.4 L356.7,266.7 L357.2,266.9 L357.7,270.8 L358.2,276.8 L358.7,278.3 L359.2,285.7 L359.7,289.0 L360.2,291.8 L360.7,297.6 L361.2,299.7 L361.7,304.0 L362.2,300.7 L362.7,295.4 L363.2,292.0 L363.7,294.5 L364.2,293.1 L364.7,295.0 L365.4,277.9 L365.9,281.1 L366.4,282.4 L366.8,287.5 L367.3,287.0 L367.8,291.0 L368.3,290.1 L368.8,285.4 L369.3,284.0 L369.8,285.2 L370.3,283.7 L370.8,285.0 L371.3,277.1 L371.8,266.8 L372.3,265.6 L372.8,267.0 L373.3,264.4 L373.8,264.7 L374.2,261.5 L374.6,253.2 L375.1,251.5 L375.5,245.6 L375.9,252.1 L376.4,262.2 L376.9,266.6 L377.3,274.8 L377.7,277.9 L378.2,279.0 L378.6,283.0 L379.0,283.1 L379.5,287.5 L379.9,289.0 L380.4,285.7 L380.9,285.3 L381.4,280.9 L381.9,278.9 L382.4,273.7 L382.8,266.1 L383.3,260.7 L383.8,267.8 L384.4,272.2 L384.9,278.9 L385.3,277.0 L385.7,273.1 L386.2,272.5 L386.6,268.2 L387.0,266.8 L387.5,273.2 L388.0,275.7 L388.5,284.0 L389.0,288.0 L389.6,276.4 L390.2,268.0 L390.8,262.1 L391.4,252.6 L391.8,253.8 L392.3,257.6 L392.7,256.7 L393.1,261.4 L393.6,261.6 L394.0,264.7 L394.4,268.7 L394.8,269.7 L395.3,274.9 L395.7,274.7 L396.1,278.9 L396.5,283.1 L397.0,283.8 L397.4,290.2 L397.8,290.9 L398.3,295.7 L398.7,298.0 L399.2,290.1 L399.7,286.2 L400.2,276.2 L400.7,270.8 L401.2,272.1 L401.7,269.4 L402.1,272.6 L402.6,269.6 L403.1,270.8 L403.6,274.8 L404.1,275.6 L404.6,279.9 L405.1,281.6 L405.6,285.0 L406.1,288.3 L406.7,289.0 L407.2,292.0 L407.8,258.7 L408.3,261.9 L408.8,261.0 L409.2,265.6 L409.7,264.9 L410.2,267.8 L410.8,277.0 L411.4,283.0 L411.9,285.8 L412.3,291.6 L412.8,295.0 L413.3,288.8 L413.7,287.2 L414.2,281.0 L414.7,293.2 L415.2,308.0 L415.6,308.0 L416.0,304.5 L416.5,305.7 L416.9,302.8 L417.3,303.0 L417.7,283.0 L418.1,288.2 L418.6,291.0 L419.0,296.0 L419.4,301.6 L419.9,303.8 L420.3,310.0 L420.8,306.1 L421.2,299.2 L421.7,296.0 L422.1,305.5 L422.6,311.0 L423.0,308.9 L423.5,310.1 L423.9,307.0 L424.3,307.0 L424.8,305.3 L425.4,299.3 L425.9,299.2 L426.4,295.0 L426.9,298.0 L427.4,304.2 L427.9,307.1 L428.4,312.0 L428.8,316.7 L429.3,318.2 L429.8,324.5 L430.2,327.6 L430.7,323.3 L431.2,321.6 L431.7,317.1 L432.2,315.2 L432.7,311.2 L433.1,304.3 L433.6,301.4 L434.1,292.9 L434.5,288.5 L434.9,294.9 L435.4,298.3 L435.8,305.0 L436.3,310.8 L436.8,313.0 L437.3,318.8 L437.7,318.0 L438.2,314.3 L438.6,315.6 L439.1,311.9 L439.5,312.0 L439.9,313.8 L440.3,312.1 L440.8,314.2 L441.2,312.0 L441.6,313.7 L442.1,310.9 L442.6,303.9 L443.1,301.8 L443.6,295.9 L444.1,292.3 L444.7,302.1 L445.3,308.0 L445.7,310.8 L446.2,316.5 L446.6,318.8 L447.1,320.4 L447.6,324.6 L448.1,323.6 L448.6,328.4 L449.1,330.0 L449.5,328.2 L450.0,330.0 L450.4,326.4 L450.8,329.1 L451.3,326.4 L451.7,326.4 L452.2,329.2 L452.7,327.6 L453.2,330.7 L453.7,331.4 L454.1,325.2 L454.6,321.3 L455.1,313.4 L455.5,308.7 L456.0,311.5 L456.5,312.0 L457.0,315.8 L457.5,316.0 L458.0,318.8 L458.5,317.1 L459.0,312.1 L459.5,311.3 L460.0,305.3 L460.5,303.6 L460.9,301.8 L461.4,296.8 L461.8,296.0 L462.3,299.2 L462.8,298.2 L463.3,303.0 L463.8,303.2 L464.3,306.0 L464.8,295.6 L465.3,283.7 L465.8,274.2 L466.3,263.0 L466.8,271.6 L467.2,283.2 L467.7,290.7 L468.1,301.0 L468.6,296.7 L469.1,290.7 L469.6,288.3 L470.1,281.0 L470.6,277.0 L471.1,282.2 L471.6,283.7 L472.1,289.3 L472.6,291.2 L473.1,296.0 L473.5,298.1 L474.0,298.0 L474.4,302.4 L474.8,300.3 L475.3,304.7 L475.7,305.0 L476.3,294.0 L476.9,286.0 L477.4,288.5 L477.9,286.1 L478.3,290.1 L478.8,290.0 L479.3,287.4 L479.8,288.0 L480.2,284.7 L480.7,284.7 L481.2,282.8 L481.7,277.5 L482.2,277.8 L482.7,272.8 L483.2,270.8 L483.6,266.6 L484.1,259.8 L484.5,257.7 L484.9,251.1 L485.4,248.4 L485.8,243.0 L486.3,239.2 L486.8,238.5 L487.3,232.0 L487.8,231.6 L488.3,227.9 L488.9,241.4 L489.5,258.0 L489.9,246.4 L490.4,231.6 L490.8,220.3 L491.2,218.7 L491.7,214.8 L492.1,214.0 L492.5,209.9 L493.0,209.7 L493.4,206.0 L493.8,210.1 L494.3,217.5 L494.7,222.0 L495.3,228.1 L495.9,238.0 L496.4,243.8 L497.0,244.9 L497.5,250.0 L498.0,254.7 L498.6,257.2 L499.1,262.0 L499.5,260.5 L500.0,257.1 L500.4,256.7 L500.9,253.1 L501.3,252.8 L501.8,249.1 L502.2,248.0 L502.7,250.9 L503.2,249.5 L503.7,253.8 L504.2,253.3 L504.7,255.7 L505.1,249.2 L505.6,239.4 L506.1,233.9 L506.5,225.4 L507.0,229.2 L507.5,235.2 L508.0,237.0 L508.5,243.0 L509.0,243.6 L509.5,241.7 L510.0,244.4 L510.5,241.6 L511.0,243.0 L511.5,246.7 L512.0,248.1 L512.5,253.0 L513.0,254.3 L513.5,258.2 L514.0,259.1 L514.5,256.3 L515.0,259.9 L515.5,256.8 L516.0,258.2 L516.5,261.9 L516.9,263.9 L517.3,269.0 L517.8,270.8 L518.2,222.7 L518.7,176.0 L519.2,215.0 L519.8,253.0 L520.2,256.0 L520.7,262.1 L521.1,265.8 L521.6,269.0 L522.1,275.7 L522.6,276.2 L523.1,283.3 L523.6,286.0 L524.0,290.3 L524.4,298.5 L524.9,302.7 L525.3,309.8 L525.7,315.0 L526.1,307.9 L526.5,304.6 L527.0,295.4 L527.4,291.0 L527.9,293.6 L528.3,292.0 L528.8,296.1 L529.3,296.0 L529.8,292.2 L530.2,291.7 L530.7,287.0 L531.2,284.7 L531.7,289.2 L532.2,290.3 L532.7,296.3 L533.2,296.6 L533.7,301.0 L534.2,305.0 L534.6,306.6 L535.0,311.3 L535.5,313.7 L536.0,285.4 L536.5,258.2 L536.9,273.0 L537.4,286.5 L537.8,301.0 L538.3,299.6 L538.7,296.0 L539.2,296.8 L539.7,292.4 L540.1,292.2 L540.6,289.7 L541.1,290.9 L541.6,294.8 L542.1,295.5 L542.6,299.7 L543.1,301.0 L543.7,312.8 L544.3,328.4 L544.7,307.2 L545.2,284.1 L545.6,263.0 L546.1,274.2 L546.6,284.1 L547.1,295.6 L547.6,306.0 L548.1,300.9 L548.7,300.8 L549.2,296.0 L549.7,290.9 L550.2,288.2 L550.7,283.4 L551.2,286.7 L551.6,293.7 L552.0,295.6 L552.5,301.0 L553.0,299.4 L553.5,295.0 L554.0,296.0 L554.5,291.2 L555.0,289.6 L555.4,292.0 L555.9,292.4 L556.3,296.5 L556.7,295.8 L557.2,299.7 L557.6,301.0 L558.1,300.7 L558.6,304.6 L559.1,302.7 L559.6,305.7 L560.1,306.0 L560.6,306.3 L561.1,310.8 L561.6,310.3 L562.1,313.6 L562.5,310.0 L563.0,303.9 L563.5,301.8 L563.9,296.0 L564.4,296.7 L564.9,300.9 L565.4,299.2 L565.9,302.6 L566.4,303.5 L566.9,298.3 L567.4,295.6 L567.9,288.4 L568.4,286.8 L568.9,280.8 L569.3,282.3 L569.8,286.1 L570.2,286.2 L570.6,291.0 L571.1,290.7 L571.5,293.4 L571.9,288.9 L572.4,282.6 L572.8,279.2 L573.2,273.2 L573.7,276.7 L574.2,285.1 L574.8,287.0 L575.3,293.4 L575.7,292.7 L576.2,287.8 L576.6,288.5 L577.0,284.6 L577.4,285.1 L577.9,280.4 L578.3,279.5 L578.8,284.0 L579.2,286.1 L579.7,292.6 L580.2,294.5 L580.6,300.2 L581.1,303.5 L581.7,281.1 L582.3,259.3 L582.7,267.9 L583.2,274.4 L583.6,283.3 L584.0,276.6 L584.5,266.2 L585.0,261.2 L585.4,253.0 L586.0,266.2 L586.6,283.3 L587.0,290.0 L587.5,294.1 L587.9,301.0 L588.4,301.1 L588.9,296.8 L589.4,298.4 L589.9,295.5 L590.4,294.7 L590.9,298.2 L591.4,298.7 L591.9,304.1 L592.4,304.1 L592.9,307.3 L593.3,305.8 L593.8,301.0 L594.2,301.0 L594.6,297.0 L595.1,296.9 L595.5,293.4 L596.0,295.2 L596.5,300.4 L597.0,302.3 L597.5,306.0 L597.9,302.8 L598.4,296.6 L598.8,295.5 L599.2,290.9 L599.6,293.5 L600.1,300.2 L600.5,301.2 L600.9,306.9 L601.4,308.5 L601.8,313.6 L602.3,312.2 L602.8,307.6 L603.3,307.6 L603.8,302.7 L604.3,301.0 L604.8,303.3 L605.3,303.5 L605.8,307.2 L606.3,305.7 L606.8,308.6 L607.3,312.2 L607.8,311.8 L608.3,316.8 L608.8,318.0 L609.3,321.2 L609.7,314.4 L610.2,303.4 L610.6,297.2 L611.1,302.5 L611.6,303.7 L612.1,309.5 L612.6,311.5 L613.1,316.2 L613.5,316.0 L614.0,312.3 L614.4,313.9 L614.8,310.3 L615.3,312.0 L615.7,309.8 L616.2,310.9 L616.7,316.6 L617.2,316.3 L617.7,320.0 L618.1,315.8 L618.5,308.8 L619.0,305.7 L619.4,299.7 L619.8,301.7 L620.3,306.7 L620.7,308.3 L621.1,313.9 L621.6,314.9 L622.0,318.7 L622.5,317.7 L623.0,315.0 L623.5,315.4 L624.0,311.7 L624.5,311.0 L625.0,314.6 L625.5,313.0 L626.0,318.4 L626.5,318.7 L627.3,280.8 L627.8,290.0 L628.3,301.6 L628.8,311.0 L629.3,313.0 L629.8,317.3 L630.3,317.1 L630.8,322.1 L631.3,323.7 L631.8,319.8 L632.2,318.2 L632.7,312.5 L633.2,312.2 L633.7,306.1 L634.1,305.4 L634.6,301.0 L635.0,307.2 L635.5,316.8 L635.9,323.7 L636.4,313.2 L636.9,307.0 L637.4,297.2 L637.9,305.6 L638.4,317.6 L638.9,326.3 L639.4,323.4 L639.8,323.4 L640.3,319.9 L640.8,320.0 L641.3,316.5 L641.7,316.6 L642.2,313.6 L642.7,315.6 L643.2,320.7 L643.7,321.6 L644.2,327.3 L644.7,328.8 L645.2,325.8 L645.7,325.7 L646.2,321.1 L646.7,321.9 L647.2,318.7 L647.7,319.7 L648.2,324.5 L648.7,325.0 L649.2,330.1 L649.7,331.3 L650.1,325.5 L650.6,324.6 L651.0,318.7 L651.4,321.2 L651.9,325.4 L652.3,326.6 L652.7,331.1 L653.1,331.4 L653.6,336.9 L654.0,338.9 L654.4,333.8 L654.9,332.4 L655.3,325.7 L655.7,324.9 L656.2,319.3 L656.6,316.2 L657.1,322.0 L657.6,323.1 L658.1,330.0 L658.6,333.8 L659.1,336.3 L659.6,342.7 L660.1,345.2 L660.6,341.5 L661.0,340.2 L661.5,335.3 L661.9,333.7 L662.4,330.0 L662.9,327.0 L663.4,326.9 L663.9,321.8 L664.4,321.6 L664.9,318.7 L665.4,316.6 L665.8,316.6 L666.2,312.7 L666.7,312.4 L667.2,318.7 L667.7,322.4 L668.2,328.8 L668.7,328.4 L669.2,325.1 L669.7,327.1 L670.2,324.2 L670.7,323.7 L671.1,313.9 L671.6,301.6 L672.0,292.2 L672.4,297.3 L672.9,298.8 L673.3,305.0 L673.8,307.7 L674.2,312.4 L675.0,285.9 L675.5,283.4 L676.0,277.1 L676.5,275.3 L677.0,270.7 L677.5,271.8 L677.9,276.4 L678.3,275.5 L678.8,278.3 L679.3,275.0 L679.8,268.3 L680.3,266.0 L680.8,260.6 L681.2,262.9 L681.7,270.2 L682.1,271.1 L682.6,275.8 L683.1,274.9 L683.6,271.2 L684.1,272.1 L684.6,269.3 L685.1,268.2 L685.9,250.5 L686.3,239.1 L686.8,226.0 L687.2,215.1 L687.6,202.5 L688.0,218.9 L688.5,236.8 L688.9,253.0 L689.3,240.1 L689.8,230.2 L690.2,217.7 L690.8,245.1 L691.3,273.0 L691.8,273.6 L692.3,270.6 L692.8,273.4 L693.3,270.6 L693.8,270.7 L694.2,263.2 L694.7,254.4 L695.1,247.4 L695.5,238.6 L696.0,231.2 L696.4,223.0 L696.8,232.6 L697.2,243.8 L697.7,252.8 L698.1,263.0 L698.6,268.2 L699.1,269.5 L699.6,277.0 L700.1,279.5 L700.6,277.5 L701.1,277.7 L701.6,273.7 L702.1,275.8 L702.6,273.0 L703.0,268.2 L703.5,266.2 L704.0,260.2 L704.4,258.0 L704.9,261.9 L705.4,262.2 L705.9,268.4 L706.4,268.7 L706.9,273.0 L707.4,268.1 L707.9,260.0 L708.4,256.9 L708.9,250.5 L709.3,259.1 L709.8,271.5 L710.2,279.5 L710.7,272.9 L711.2,269.7 L711.7,262.7 L712.2,259.2 L712.7,253.0 L713.1,249.7 L713.6,249.4 L714.0,245.2 L714.4,244.5 L714.9,240.2 L715.3,239.0 L715.8,244.7 L716.3,247.0 L716.8,253.3 L717.3,255.0 L717.8,260.6 L718.3,258.0 L718.8,252.5 L719.3,251.8 L719.8,248.0 L720.2,251.8 L720.7,259.4 L721.1,261.8 L721.6,268.0 L722.2,262.0 L722.8,254.0 L723.2,260.2 L723.7,269.8 L724.1,275.8 L724.6,277.1 L725.1,281.8 L725.6,281.3 L726.1,285.7 L726.6,287.0 L727.0,288.6 L727.5,292.6 L727.9,293.4 L728.4,289.4 L728.9,288.3 L729.4,282.7 L729.9,282.6 L730.4,278.3 L730.8,284.3 L731.3,293.3 L731.7,299.7 L732.2,296.2 L732.7,295.3 L733.2,291.3 L733.7,290.4 L734.2,287.0 L734.9,309.8 L735.3,306.8 L735.8,305.8 L736.2,300.9 L736.7,300.3 L737.1,295.8 L737.6,295.0 L738.0,292.0 L738.5,293.6 L739.0,299.2 L739.5,299.1 L740.0,303.7 L740.5,306.0 L741.0,302.1 L741.5,301.5 L742.0,295.9 L742.5,294.7 L742.9,298.8 L743.4,300.1 L743.8,307.3 L744.2,307.4 L744.7,313.7 L745.1,316.0 L745.6,309.1 L746.1,305.4 L746.6,295.9 L747.1,292.3 L747.6,284.6 L748.0,291.6 L748.5,302.5 L748.9,308.8 L749.3,318.7 L749.7,316.9 L750.2,311.7 L750.6,310.3 L751.0,304.5 L751.5,303.4 L751.9,299.7 L752.4,300.6 L752.9,305.2 L753.4,304.8 L753.9,309.3 L754.4,311.0 L754.9,307.4 L755.3,307.9 L755.8,302.8 L756.2,301.0 L756.7,306.9 L757.2,309.8 L757.7,316.0 L758.1,300.9 L758.5,284.9 L759.0,270.0 L759.4,254.3 L759.8,253.1 L760.3,255.2 L760.7,253.0 L761.2,265.7 L761.6,280.2 L762.0,292.5 L762.5,306.0 L763.0,308.1 L763.5,306.5 L764.0,309.1 L764.5,308.6 L765.0,312.0 L765.5,318.8 L766.0,320.5 L766.5,327.8 L767.0,331.3 L767.5,328.2 L768.0,329.0 L768.5,324.4 L769.0,324.6 L769.5,321.0 L770.0,313.8 L770.4,310.2 L770.8,301.6 L771.3,297.0 L771.8,303.2 L772.3,305.9 L772.8,314.4 L773.3,318.7 L773.7,314.8 L774.2,313.9 L774.6,308.0 L775.0,306.8 L775.5,301.7 L775.9,299.7 L776.4,303.7 L776.9,305.1 L777.4,311.2 L777.9,312.7 L778.4,317.4 L778.9,317.4 L779.4,312.8 L779.9,313.9 L780.4,311.0 L780.9,306.4 L781.3,304.1 L781.8,299.2 L782.2,296.0 L782.7,302.1 L783.2,305.7 L783.7,313.8 L784.2,317.2 L784.7,323.7 L785.2,319.8 L785.7,312.1 L786.2,308.2 L786.7,302.0 L787.2,301.5 L787.6,304.0 L788.0,303.6 L788.5,304.8 L789.0,310.4 L789.5,313.5 L790.0,319.9 L790.5,323.7 L791.0,319.8 L791.4,318.8 L791.8,313.0 L792.3,311.0 L792.8,310.7 L793.3,307.6 L793.8,309.2 L794.3,306.4 L794.8,306.0 L795.3,310.4 L795.8,311.1 L796.3,315.8 L796.8,317.4 L797.3,321.0 L797.8,317.5 L798.2,309.7 L798.6,308.1 L799.1,302.0 L799.6,298.9 L800.1,298.7 L800.6,295.0 L801.1,293.4 L801.6,299.4 L802.1,301.5 L802.6,308.5 L803.1,312.4 L803.5,304.5 L804.0,300.4 L804.5,290.9 L804.9,285.9 L805.4,289.1 L805.8,288.7 L806.2,293.1 L806.7,293.4 L807.4,278.3 L808.0,285.0 L808.6,293.0 L809.0,291.9 L809.5,287.2 L809.9,285.9 L810.4,283.8 L810.9,279.7 L811.3,279.2 L811.8,274.3 L812.3,272.0 L813.1,240.5 L813.6,246.5 L814.0,248.1 L814.5,254.6 L815.2,220.3 L815.8,224.9 L816.4,228.0 L816.9,217.6 L817.4,209.0 L817.9,199.4 L818.4,186.9 L818.9,181.1 L819.4,178.0 L819.9,172.8 L820.4,164.6 L820.9,178.1 L821.3,193.2 L821.8,207.0 L822.4,134.3 L822.9,143.4 L823.4,154.5 L823.9,145.0 L824.3,133.0 L824.8,123.2 L825.2,125.5 L825.6,123.1 L826.1,126.8 L826.5,126.3 L826.9,154.5 L827.5,146.8 L828.1,140.4 L828.6,144.4 L829.0,143.6 L829.5,147.5 L830.1,184.8 L830.6,182.3 L831.1,176.1 L831.6,175.2 L832.1,170.7 L832.6,173.9 L833.0,179.5 L833.5,182.8 L834.0,184.3 L834.5,188.2 L835.0,190.0 L835.5,193.0 L836.1,199.5 L836.6,202.0 L837.4,226.4 L837.9,226.6 L838.4,231.2 L838.9,229.6 L839.4,232.4 L839.9,225.9 L840.3,216.3 L840.8,210.2 L841.4,225.6 L842.0,238.5 L842.5,233.5 L843.0,232.7 L843.5,227.0 L844.0,224.3 L844.5,227.7 L845.0,226.9 L845.5,231.9 L846.0,231.9 L846.5,235.5 L847.3,226.0 L847.9,235.9 L848.5,244.5 L849.0,237.1 L849.5,232.2 L849.9,223.3 L850.4,218.0 L851.0,229.2 L851.5,236.5 L852.0,234.1 L852.5,235.5 L853.0,231.9 L853.5,232.4 L853.9,236.4 L854.3,238.0 L854.8,243.9 L855.2,244.2 L855.6,248.6 L856.1,255.2 L856.6,258.7 L857.1,253.6 L857.6,253.1 L858.1,246.3 L858.6,243.5 L859.1,257.3 L859.7,266.3 L860.2,279.9 L860.7,279.9 L861.1,275.4 L861.6,274.8 L862.1,267.6 L862.5,256.0 L863.0,248.6 L863.6,223.3 L864.1,243.0 L864.6,260.7 L865.0,257.2 L865.5,256.6 L865.9,251.8 L866.3,249.6 L866.8,255.7 L867.3,257.9 L867.8,263.8 L868.3,267.8 L868.8,262.6 L869.3,260.6 L869.8,253.3 L870.3,249.6 L870.8,256.7 L871.2,261.8 L871.7,268.8 L872.2,268.6 L872.7,265.7 L873.2,267.8 L873.7,265.8 L874.1,266.1 L874.5,270.5 L875.0,269.9 L875.4,272.0 L875.9,281.6 L876.3,287.6 L876.8,297.0 L877.6,280.0 L878.3,294.0" fill="none" stroke="#4a7ebb" stroke-width="3.0" stroke-linejoin="round" stroke-linecap="round"/>
<text x="13.7" y="48.6" font-size="11.3" textLength="20.4" lengthAdjust="spacingAndGlyphs" font-family="'Liberation Sans', sans-serif" fill="#000">800</text>
<text x="13.7" y="104.2" font-size="11.3" textLength="20.4" lengthAdjust="spacingAndGlyphs" font-family="'Liberation Sans', sans-serif" fill="#000">700</text>
<text x="13.7" y="159.8" font-size="11.3" textLength="20.4" lengthAdjust="spacingAndGlyphs" font-family="'Liberation Sans', sans-serif" fill="#000">600</text>
<text x="13.7" y="215.5" font-size="11.3" textLength="20.4" lengthAdjust="spacingAndGlyphs" font-family="'Liberation Sans', sans-serif" fill="#000">500</text>
<text x="13.7" y="271.1" font-size="11.3" textLength="20.4" lengthAdjust="spacingAndGlyphs" font-family="'Liberation Sans', sans-serif" fill="#000">400</text>
<text x="13.7" y="326.7" font-size="11.3" textLength="20.4" lengthAdjust="spacingAndGlyphs" font-family="'Liberation Sans', sans-serif" fill="#000">300</text>
<text x="13.7" y="382.4" font-size="11.3" textLength="20.4" lengthAdjust="spacingAndGlyphs" font-family="'Liberation Sans', sans-serif" fill="#000">200</text>
<text x="13.7" y="438.0" font-size="11.3" textLength="20.4" lengthAdjust="spacingAndGlyphs" font-family="'Liberation Sans', sans-serif" fill="#000">100</text>
<text x="27.3" y="493.6" font-size="11.3" textLength="6.8" lengthAdjust="spacingAndGlyphs" font-family="'Liberation Sans', sans-serif" fill="#000">0</text>
<text transform="translate(45.1,502.7) rotate(-45)" text-anchor="end" font-size="12.9" font-family="'Liberation Sans', sans-serif" fill="#000" y="8">1/6/1967</text>
<text transform="translate(81.9,502.7) rotate(-45)" text-anchor="end" font-size="12.9" font-family="'Liberation Sans', sans-serif" fill="#000" y="8">1/6/1969</text>
<text transform="translate(118.8,502.7) rotate(-45)" text-anchor="end" font-size="12.9" font-family="'Liberation Sans', sans-serif" fill="#000" y="8">1/6/1971</text>
<text transform="translate(155.6,502.7) rotate(-45)" text-anchor="end" font-size="12.9" font-family="'Liberation Sans', sans-serif" fill="#000" y="8">1/6/1973</text>
<text transform="translate(192.4,502.7) rotate(-45)" text-anchor="end" font-size="12.9" font-family="'Liberation Sans', sans-serif" fill="#000" y="8">1/6/1975</text>
<text transform="translate(229.2,502.7) rotate(-45)" text-anchor="end" font-size="12.9" font-family="'Liberation Sans', sans-serif" fill="#000" y="8">1/6/1977</text>
<text transform="translate(266.1,502.7) rotate(-45)" text-anchor="end" font-size="12.9" font-family="'Liberation Sans', sans-serif" fill="#000" y="8">1/6/1979</text>
<text transform="translate(302.9,502.7) rotate(-45)" text-anchor="end" font-size="12.9" font-family="'Liberation Sans', sans-serif" fill="#000" y="8">1/6/1981</text>
<text transform="translate(339.7,502.7) rotate(-45)" text-anchor="end" font-size="12.9" font-family="'Liberation Sans', sans-serif" fill="#000" y="8">1/6/1983</text>
<text transform="translate(376.6,502.7) rotate(-45)" text-anchor="end" font-size="12.9" font-family="'Liberation Sans', sans-serif" fill="#000" y="8">1/6/1985</text>
<text transform="translate(413.4,502.7) rotate(-45)" text-anchor="end" font-size="12.9" font-family="'Liberation Sans', sans-serif" fill="#000" y="8">1/6/1987</text>
<text transform="translate(450.2,502.7) rotate(-45)" text-anchor="end" font-size="12.9" font-family="'Liberation Sans', sans-serif" fill="#000" y="8">1/6/1989</text>
<text transform="translate(487.1,502.7) rotate(-45)" text-anchor="end" font-size="12.9" font-family="'Liberation Sans', sans-serif" fill="#000" y="8">1/6/1991</text>
<text transform="translate(523.9,502.7) rotate(-45)" text-anchor="end" font-size="12.9" font-family="'Liberation Sans', sans-serif" fill="#000" y="8">1/6/1993</text>
<text transform="translate(560.7,502.7) rotate(-45)" text-anchor="end" font-size="12.9" font-family="'Liberation Sans', sans-serif" fill="#000" y="8">1/6/1995</text>
<text transform="translate(597.5,502.7) rotate(-45)" text-anchor="end" font-size="12.9" font-family="'Liberation Sans', sans-serif" fill="#000" y="8">1/6/1997</text>
<text transform="translate(634.4,502.7) rotate(-45)" text-anchor="end" font-size="12.9" font-family="'Liberation Sans', sans-serif" fill="#000" y="8">1/6/1999</text>
<text transform="translate(671.2,502.7) rotate(-45)" text-anchor="end" font-size="12.9" font-family="'Liberation Sans', sans-serif" fill="#000" y="8">1/6/2001</text>
<text transform="translate(708.0,502.7) rotate(-45)" text-anchor="end" font-size="12.9" font-family="'Liberation Sans', sans-serif" fill="#000" y="8">1/6/2003</text>
<text transform="translate(744.9,502.7) rotate(-45)" text-anchor="end" font-size="12.9" font-family="'Liberation Sans', sans-serif" fill="#000" y="8">1/6/2005</text>
<text transform="translate(781.7,502.7) rotate(-45)" text-anchor="end" font-size="12.9" font-family="'Liberation Sans', sans-serif" fill="#000" y="8">1/6/2007</text>
<text transform="translate(818.5,502.7) rotate(-45)" text-anchor="end" font-size="12.9" font-family="'Liberation Sans', sans-serif" fill="#000" y="8">1/6/2009</text>
<text transform="translate(855.4,502.7) rotate(-45)" text-anchor="end" font-size="12.9" font-family="'Liberation Sans', sans-serif" fill="#000" y="8">1/6/2011</text>
<text x="324.4" y="24" font-size="14.6" font-weight="bold" font-family="'Liberation Sans', sans-serif" textLength="253.2" lengthAdjust="spacingAndGlyphs" fill="#000">Initial Jobless Claims 1967 - Present</text>
<text x="20.2" y="587.5" font-size="12.4" font-weight="bold" font-family="'Liberation Sans', sans-serif" textLength="41.8" lengthAdjust="spacingAndGlyphs" fill="#000">Source:</text>
<text x="70.6" y="587.5" font-size="12.4" font-weight="bold" font-family="'Liberation Sans', sans-serif" textLength="103.4" lengthAdjust="spacingAndGlyphs" fill="#000">US Dept of Labor</text>
<text x="347.5" y="585" font-size="12.4" font-weight="bold" font-family="'Liberation Sans', sans-serif" textLength="243" lengthAdjust="spacingAndGlyphs" fill="#000">www.nationalassetdirect.blogspot.com</text>
</svg>
</body></html>
